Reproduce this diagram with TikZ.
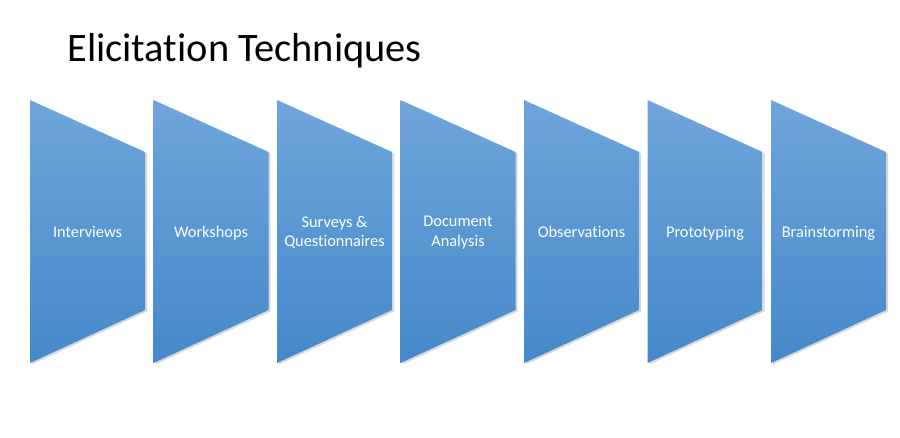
\documentclass[tikz,border=0pt]{standalone}
\usepackage{fontspec}
\setmainfont{Carlito}[Ligatures={NoCommon}]
\usetikzlibrary{shadows}
\definecolor{techtop}{HTML}{6FA5DB}
\definecolor{techbot}{HTML}{4589CA}
\tikzset{tech/.style={top color=techtop,bottom color=techbot,draw=none,
  drop shadow={shadow xshift=1.2pt,shadow yshift=-0.8pt,opacity=0.3}}}
\tikzset{lbl/.style={text=white,align=center,font=\fontsize{9.3}{11}\selectfont,
  execute at begin node=\strut,execute at end node=\strut}}
\tikzset{ttl/.style={anchor=base west,inner sep=0pt,font=\fontsize{23}{23}\selectfont}}

\begin{document}
\begin{tikzpicture}[x=0.02cm,y=-0.02cm]
  \useasboundingbox (0,0) rectangle (900,437);
  \node[ttl] (title) at (67,61) {Elicitation Techniques};
  \foreach \t [count=\i] in {Interviews,Workshops,{Surveys \&\\Questionnaires},
      {Document\\Analysis},Observations,Prototyping,Brainstorming}{
    \pgfmathsetmacro\x{30+123.5*(\i-1)}
    \draw[tech] (\x,100) -- (\x+115,152) -- (\x+115,310) -- (\x,363) -- cycle;
    \node[lbl] (t\i) at (\x+57.5,234) {\t};
  }
\end{tikzpicture}
\end{document}
